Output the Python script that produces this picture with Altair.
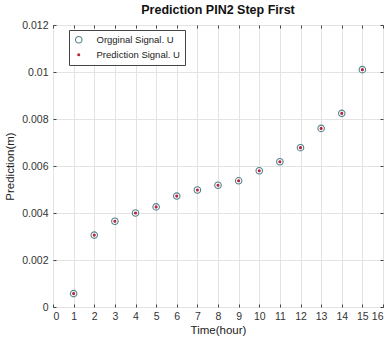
import altair as alt
import pandas as pd

hours = [1, 2, 3, 4, 5, 6, 7, 8, 9, 10, 11, 12, 13, 14, 15]
original = [0.00057, 0.00306, 0.00365, 0.00400, 0.00426, 0.00472, 0.00498, 0.00518,
            0.00537, 0.00580, 0.00618, 0.00678, 0.00760, 0.00824, 0.01010]
prediction = [0.00057, 0.00306, 0.00365, 0.00400, 0.00426, 0.00472, 0.00498, 0.00518,
              0.00537, 0.00580, 0.00618, 0.00678, 0.00760, 0.00824, 0.01010]
series_names = ["Orgginal Signal. U", "Prediction Signal. U"]
x_ticks = list(range(0, 17))
y_ticks = [0, 0.002, 0.004, 0.006, 0.008, 0.01, 0.012]

rows = []
for h, v in zip(hours, original):
    rows.append({"t": h, "v": v, "s": series_names[0]})
for h, v in zip(hours, prediction):
    rows.append({"t": h, "v": v, "s": series_names[1]})
df = pd.DataFrame(rows)

FONT = "Liberation Sans"
xs = alt.Scale(domain=[0, 16], nice=False, zero=False)
ys = alt.Scale(domain=[0, 0.012], nice=False)

main = alt.Chart(df).mark_point(filled=False, strokeWidth=1.1, opacity=1).encode(
    x=alt.X("t:Q", scale=xs, title="Time(hour)",
            axis=alt.Axis(values=x_ticks, orient="bottom", grid=True, domain=False,
                          ticks=True, tickSize=3, offset=-3, tickColor="#444",
                          labelPadding=4, format="d")),
    y=alt.Y("v:Q", scale=ys, title="Prediction(m)",
            axis=alt.Axis(values=y_ticks, orient="left", grid=True, domain=False,
                          ticks=True, tickSize=3, offset=-3, tickColor="#444",
                          labelPadding=5, labelExpr="datum.value == 0 ? '0' : format(datum.value, '.3~f')")),
    stroke=alt.Stroke("s:N", scale=alt.Scale(domain=series_names, range=["#557f8c", "#b3283a"]),
                      legend=alt.Legend(title=None, orient="none", legendX=16, legendY=5,
                                        strokeColor="#444", fillColor="white",
                                        padding=5, labelFont=FONT, labelFontSize=9.5,
                                        labelColor="#222", symbolStrokeWidth=1.1,
                                        rowPadding=3, labelOffset=13, labelLimit=200)),
    fill=alt.Fill("s:N", scale=alt.Scale(domain=series_names, range=["rgba(0,0,0,0)", "#b3283a"]),
                  legend=alt.Legend(title=None, orient="none", legendX=16, legendY=5)),
    size=alt.Size("s:N", scale=alt.Scale(domain=series_names, range=[42, 4]),
                  legend=alt.Legend(title=None, orient="none", legendX=16, legendY=5)),
)

frame_ticks = alt.Chart(df).mark_point(opacity=0).encode(
    x=alt.X("t:Q", scale=xs, title=None,
            axis=alt.Axis(values=x_ticks, orient="top", grid=False, domain=False, labels=False,
                          ticks=True, tickSize=3, offset=-3, tickColor="#444")),
    y=alt.Y("v:Q", scale=ys, title=None,
            axis=alt.Axis(values=y_ticks, orient="right", grid=False, domain=False, labels=False,
                          ticks=True, tickSize=3, offset=-3, tickColor="#444")),
)

chart = alt.layer(main, frame_ticks).properties(
    width=330, height=282,
    title=alt.Title("Prediction PIN2 Step First", font=FONT, fontSize=12.5, fontWeight="bold",
                    color="#111", offset=4, anchor="middle"),
    padding={"left": 53, "top": 25, "right": 4, "bottom": 36},
    autosize=alt.AutoSizeParams(type="none"),
).configure_view(stroke="#444", strokeWidth=1).configure_axis(
    labelFont=FONT, labelFontSize=10.5, labelColor="#333", titleFont=FONT, titleFontSize=11.5,
    titleColor="#222", titleFontWeight="normal", gridColor="#e3e3e3", gridOpacity=1
).configure_axisX(titlePadding=3).configure_axisY(titlePadding=6)

chart.save("out.html", embed_options={"renderer": "svg", "actions": False})
